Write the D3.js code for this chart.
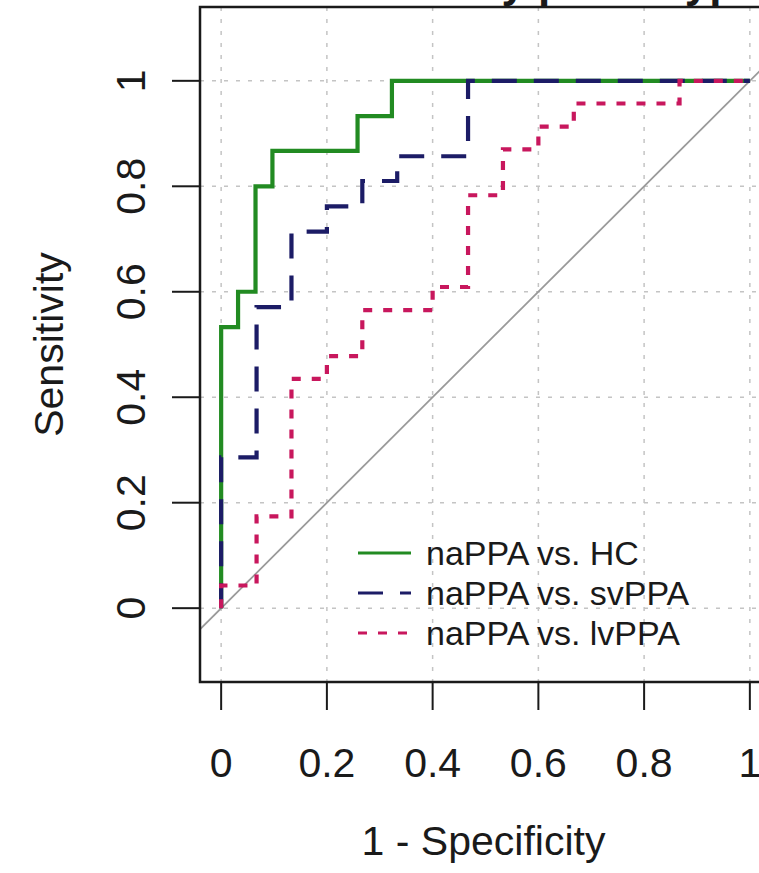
<!DOCTYPE html>
<meta charset="utf-8">
<style>
body { margin: 0; background: #fff; }
text { font-family: "Liberation Sans", Arial, sans-serif; fill: #1a1a1a; }
</style>
<body>
<svg width="759" height="873"></svg>
<script src="https://d3js.org/d3.v7.min.js"></script>
<script>
// ROC points (1 - specificity, sensitivity), drawn as steps
var hcFpr = [0, 0, 0.032, 0.065, 0.097, 0.258, 0.323, 1];
var hcTpr = [0, 0.533, 0.6, 0.8, 0.867, 0.933, 1, 1];

var svFpr = [0, 0, 0.067, 0.133, 0.2, 0.267, 0.333, 0.467, 1];
var svTpr = [0, 0.286, 0.571, 0.714, 0.762, 0.81, 0.857, 1, 1];

var lvFpr = [0, 0, 0.067, 0.133, 0.2, 0.267, 0.4, 0.467, 0.533, 0.6, 0.667, 0.867, 1];
var lvTpr = [0, 0.043, 0.174, 0.435, 0.478, 0.565, 0.609, 0.783, 0.87, 0.913, 0.957, 1, 1];

var seriesNames = ["naPPA vs. HC", "naPPA vs. svPPA", "naPPA vs. lvPPA"];
var seriesColors = ["#228b22", "#1c1c66", "#c8175d"];
var seriesDash = [null, "25,17", "9,11"];
var ticks = [0, 0.2, 0.4, 0.6, 0.8, 1];
var tickLabels = ["0", "0.2", "0.4", "0.6", "0.8", "1"];

var svg = d3.select("svg");
var boxL = 200, boxR = 771, boxT = 7, boxB = 682;

var x = d3.scaleLinear().domain([-0.04, 1.04]).range([boxL, boxR]);
var y = d3.scaleLinear().domain([-0.14, 1.14]).range([boxB, boxT]);

svg.append("rect").attr("width", 759).attr("height", 873).attr("fill", "#fff");

svg.append("clipPath").attr("id", "box")
  .append("rect").attr("x", boxL).attr("y", boxT)
  .attr("width", boxR - boxL).attr("height", boxB - boxT);

var plot = svg.append("g").attr("clip-path", "url(#box)");

// grid
plot.selectAll(".gx").data(ticks).enter().append("line")
  .attr("x1", function(d) { return x(d); }).attr("x2", function(d) { return x(d); })
  .attr("y1", boxT).attr("y2", boxB)
  .attr("stroke", "#c4c4c4").attr("stroke-width", 1.5).attr("stroke-dasharray", "4,8");
plot.selectAll(".gy").data(ticks).enter().append("line")
  .attr("y1", function(d) { return y(d); }).attr("y2", function(d) { return y(d); })
  .attr("x1", boxL).attr("x2", boxR)
  .attr("stroke", "#c4c4c4").attr("stroke-width", 1.5).attr("stroke-dasharray", "4,8");

// chance diagonal
plot.append("line")
  .attr("x1", x(-0.04)).attr("y1", y(-0.04))
  .attr("x2", x(1.04)).attr("y2", y(1.04))
  .attr("stroke", "#9a9a9a").attr("stroke-width", 1.8);

var series = [
  { fpr: hcFpr, tpr: hcTpr },
  { fpr: svFpr, tpr: svTpr },
  { fpr: lvFpr, tpr: lvTpr }
];

var line = d3.line()
  .x(function(d) { return x(d[0]); })
  .y(function(d) { return y(d[1]); })
  .curve(d3.curveStepAfter);

series.forEach(function(s, i) {
  var pts = s.fpr.map(function(f, j) { return [f, s.tpr[j]]; });
  plot.append("path")
    .attr("d", line(pts))
    .attr("fill", "none")
    .attr("stroke", seriesColors[i])
    .attr("stroke-width", 4.2)
    .attr("stroke-dasharray", seriesDash[i]);
});

// legend
var leg = svg.append("g");
seriesNames.forEach(function(name, i) {
  var ly = 553 + i * 40;
  leg.append("line")
    .attr("x1", 358).attr("x2", 411).attr("y1", ly).attr("y2", ly)
    .attr("stroke", seriesColors[i]).attr("stroke-width", 3.2)
    .attr("stroke-dasharray", seriesDash[i]);
  leg.append("text")
    .attr("x", 426).attr("y", ly + 12)
    .attr("font-size", 34)
    .text(name);
});

// box
svg.append("rect")
  .attr("x", boxL).attr("y", boxT)
  .attr("width", boxR - boxL).attr("height", boxB - boxT)
  .attr("fill", "none").attr("stroke", "#1a1a1a").attr("stroke-width", 2.5);

// x axis
svg.selectAll(".tx").data(ticks).enter().append("line")
  .attr("x1", function(d) { return x(d); }).attr("x2", function(d) { return x(d); })
  .attr("y1", boxB).attr("y2", boxB + 28)
  .attr("stroke", "#1a1a1a").attr("stroke-width", 2);
svg.selectAll(".lx").data(ticks).enter().append("text")
  .attr("x", function(d) { return x(d); }).attr("y", 777)
  .attr("text-anchor", "middle").attr("font-size", 41)
  .text(function(d, i) { return tickLabels[i]; });

// y axis
svg.selectAll(".ty").data(ticks).enter().append("line")
  .attr("y1", function(d) { return y(d); }).attr("y2", function(d) { return y(d); })
  .attr("x1", boxL - 28).attr("x2", boxL)
  .attr("stroke", "#1a1a1a").attr("stroke-width", 2);
svg.selectAll(".ly").data(ticks).enter().append("text")
  .attr("transform", function(d) { return "translate(145," + y(d) + ") rotate(-90)"; })
  .attr("text-anchor", "middle").attr("font-size", 41)
  .text(function(d, i) { return tickLabels[i]; });

// axis titles
svg.append("text")
  .attr("x", (boxL + boxR) / 2 - 2).attr("y", 855)
  .attr("text-anchor", "middle").attr("font-size", 41)
  .text("1 - Specificity");
svg.append("text")
  .attr("transform", "translate(63," + (boxT + boxB) / 2 + ") rotate(-90)")
  .attr("text-anchor", "middle").attr("font-size", 41)
  .text("Sensitivity");

// title, mostly above the visible area
svg.append("text")
  .attr("x", (boxL + boxR) / 2).attr("y", -3)
  .attr("text-anchor", "middle").attr("font-size", 44).attr("font-weight", "bold")
  .text("ROC curves by phenotype");
</script>
</body>
